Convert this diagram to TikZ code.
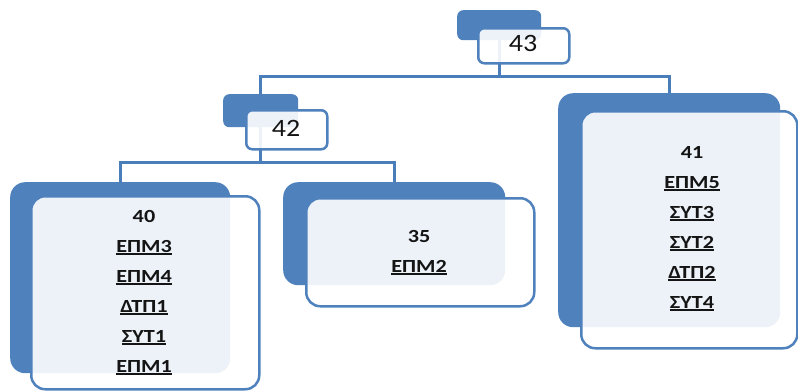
\documentclass[tikz,border=0pt]{standalone}
\usepackage{fontspec}
\setmainfont{Carlito}
\usepackage{graphicx}
\definecolor{bblue}{HTML}{4F81BD}
\definecolor{lblue}{HTML}{4A7EBB}
\definecolor{txt}{HTML}{141414}
\newcommand{\ulx}[1]{\setbox0\hbox{#1}\rlap{\rule[-3pt]{\wd0}{1.9pt}}\box0}
\newcommand{\bt}[1]{\scalebox{1.2}[1]{#1}}
\newcommand{\bu}[1]{\scalebox{1.2}[1]{\ulx{#1}}}
\tikzset{
  backbox/.style={fill=bblue, draw=none, rounded corners=#1, inner sep=0pt, anchor=north west},
  frontbox/.style={draw=bblue, line width=2.5pt, fill=white, fill opacity=0.9, rounded corners=#1, inner sep=0pt, anchor=north west},
  link/.style={draw=lblue, line width=3pt},
  lbl/.style={anchor=base, text=txt, inner sep=0pt, font=\fontsize{18.5}{21}\selectfont\bfseries},
  toplbl/.style={anchor=base, text=txt, inner sep=0pt, font=\fontsize{25}{28}\selectfont},
}
\begin{document}
\begin{tikzpicture}[x=1pt,y=-1pt]
\useasboundingbox (0,0) rectangle (798,391);
% back boxes
\node[backbox=6pt, minimum width=84pt, minimum height=30pt] (b43) at (457,10) {};
\node[backbox=6pt, minimum width=75pt, minimum height=33pt] (b42) at (223,94) {};
\node[backbox=15pt, minimum width=220pt, minimum height=191pt] (b40) at (10,182) {};
\node[backbox=15pt, minimum width=222pt, minimum height=103pt] (b35) at (283,182) {};
\node[backbox=15pt, minimum width=222pt, minimum height=234pt] (b41) at (558,93) {};
% connectors
\coordinate (j43) at (b43.south |- 0,76);
\coordinate (j42) at (b42.south |- 0,162);
\draw[link] (b43.south) -- (j43);
\draw[link] (b42.north) |- (j43) -| (b41.north);
\draw[link] (b42.south) -- (j42);
\draw[link] (b40.north) |- (j42) -| (b35.north);
% front boxes
\node[frontbox=6pt, minimum width=91pt, minimum height=35pt] (f43) at (477,27) {};
\node[frontbox=6pt, minimum width=81pt, minimum height=39pt] (f42) at (245,109) {};
\node[frontbox=14pt, minimum width=228pt, minimum height=193pt] (f40) at (30,195) {};
\node[frontbox=14pt, minimum width=228pt, minimum height=108pt] (f35) at (305,197) {};
\node[frontbox=14pt, minimum width=216pt, minimum height=237pt] (f41) at (580,110) {};
% texts
\node[toplbl] (t43) at (523,51) {\scalebox{1.12}[1]{43}};
\node[toplbl] (t42) at (286,136) {\scalebox{1.12}[1]{42}};
\node[lbl] (t40a) at (144,222) {\bt{40}};
\node[lbl] (t40b) at (144,252) {\bu{ΕΠΜ3}};
\node[lbl] (t40c) at (144,282) {\bu{ΕΠΜ4}};
\node[lbl] (t40d) at (144,312) {\bu{ΔΤΠ1}};
\node[lbl] (t40e) at (144,342) {\bu{ΣΥΤ1}};
\node[lbl] (t40f) at (144,372) {\bu{ΕΠΜ1}};
\node[lbl] (t35a) at (419,242) {\bt{35}};
\node[lbl] (t35b) at (419,272) {\bu{ΕΠΜ2}};
\node[lbl] (t41a) at (692,158) {\bt{41}};
\node[lbl] (t41b) at (692,188) {\bu{ΕΠΜ5}};
\node[lbl] (t41c) at (692,218) {\bu{ΣΥΤ3}};
\node[lbl] (t41d) at (692,248) {\bu{ΣΥΤ2}};
\node[lbl] (t41e) at (692,278) {\bu{ΔΤΠ2}};
\node[lbl] (t41f) at (692,308) {\bu{ΣΥΤ4}};
\end{tikzpicture}
\end{document}
